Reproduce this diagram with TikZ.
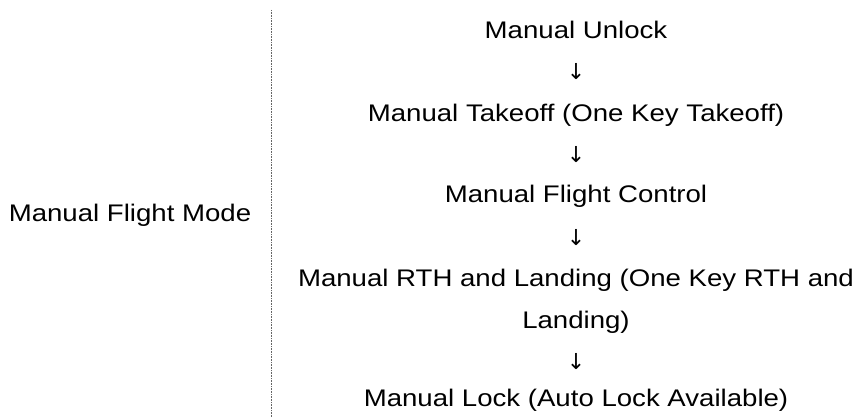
\documentclass[tikz,border=0pt]{standalone}
\usepackage{fontspec}
\setmainfont{Liberation Sans}
\newfontfamily\arr{DejaVu Sans}
\begin{document}
\begin{tikzpicture}[x=1pt,y=-1pt,
  t/.style={font=\fontsize{24}{42}\selectfont, inner sep=0pt, align=center, xscale=1.15},
  ar/.style={font=\arr\fontsize{22}{24}\selectfont, inner sep=0pt}]
\useasboundingbox (0,0) rectangle (856,417);
\fill[white] (0,0) rectangle (856,417);
\draw[gray!80!black, dash pattern=on 1pt off 0.6pt, line width=0.8pt] (271,10) -- (271,417);
\node[t] (m) at (130,215) {Manual Flight Mode};
\node[t] (a) at (576,30) {Manual Unlock};
\node[ar] (a1) at (576,72) {↓};
\node[t] (b) at (576,115) {Manual Takeoff (One Key Takeoff)};
\node[ar] (b1) at (576,155) {↓};
\node[t] (c) at (576,196) {Manual Flight Control};
\node[ar] (c1) at (576,238) {↓};
\node[t] (d) at (576,301) {Manual RTH and Landing (One Key RTH and\\Landing)};
\node[ar] (d1) at (576,362) {↓};
\node[t] (e) at (576,400) {Manual Lock (Auto Lock Available)};
\end{tikzpicture}
\end{document}
